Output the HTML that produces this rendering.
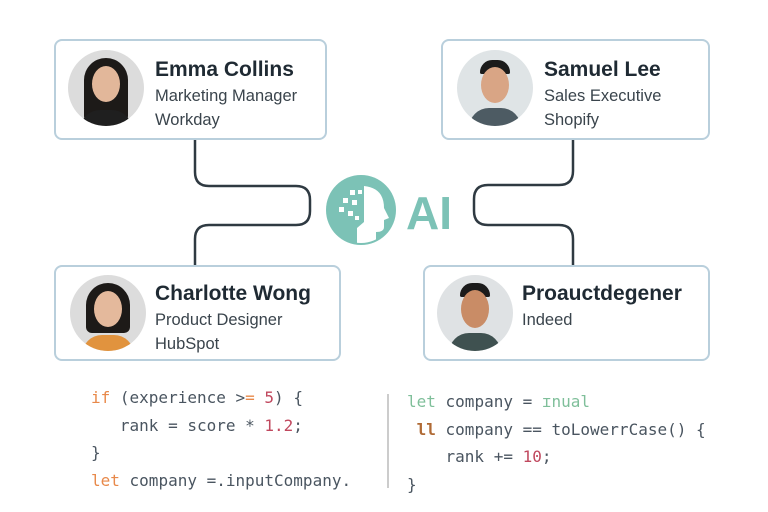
<!DOCTYPE html>
<html><head><meta charset="utf-8"><style>
body{margin:0;width:768px;height:512px;background:#fff;position:relative;overflow:hidden;font-family:"Liberation Sans",sans-serif}
.card{position:absolute;background:#fff;border:2px solid #b9cfdc;border-radius:8px;box-sizing:border-box}
.name{position:absolute;font-weight:bold;font-size:21px;color:#1f2a33}
.sub{position:absolute;font-size:16.5px;color:#3a444c}
.av{position:absolute;width:76px;height:76px;border-radius:50%;overflow:hidden}
.code{position:absolute;font-family:"DejaVu Sans Mono","Liberation Mono",monospace;font-size:16px;color:#4a5560;line-height:27.5px;white-space:pre}
.k{color:#e8894a}.n{color:#c0485e}.g{color:#7fbf9a}.b{color:#b06a35;font-weight:bold}
</style></head><body>
<svg width="768" height="512" style="position:absolute;left:0;top:0">
<defs><clipPath id="c"><circle cx="361" cy="210" r="33"/></clipPath></defs>
<g fill="none" stroke="#2f3a42" stroke-width="2.5">
<path d="M195 140 V172 Q195 186 209 186 H296 Q310 186 310 200 V211 Q310 225 296 225 H209 Q195 225 195 239 V265"/>
<path d="M573 140 V171 Q573 185 559 185 H488 Q474 185 474 199 V211 Q474 225 488 225 H559 Q573 225 573 239 V265"/>
</g>
<circle cx="361" cy="210" r="35" fill="#7cc2b6"/>
<path clip-path="url(#c)" d="M364 186 Q384 188 384 208 L389 218 L384 220 L384 227 Q384 232 376 232 L376 250 L357 250 L357 228 L364 222 Z" fill="#fff"/>
<g fill="#fff"><rect x="350" y="190" width="5" height="5"/><rect x="358" y="190" width="4" height="4"/><rect x="343" y="198" width="5" height="5"/><rect x="352" y="200" width="5" height="5"/><rect x="339" y="207" width="5" height="5"/><rect x="348" y="211" width="5" height="5"/><rect x="355" y="216" width="4" height="4"/></g>
<text x="406" y="229" font-family="Liberation Sans" font-weight="bold" font-size="46" fill="#7cc2b6">AI</text>
<line x1="388" y1="394" x2="388" y2="488" stroke="#ccc" stroke-width="2"/>
</svg>

<div class="card" style="left:54px;top:39px;width:273px;height:101px"></div>
<div class="card" style="left:441px;top:39px;width:269px;height:101px"></div>
<div class="card" style="left:54px;top:265px;width:287px;height:96px"></div>
<div class="card" style="left:423px;top:265px;width:287px;height:96px"></div>

<div class="av" style="left:68px;top:50px;background:#dcdcdc"><div style="position:absolute;left:16px;top:8px;width:44px;height:64px;background:#1d1a18;border-radius:22px 22px 6px 6px"></div><div style="position:absolute;left:24px;top:16px;width:28px;height:36px;background:#e2b79a;border-radius:50%"></div><div style="position:absolute;left:12px;top:60px;width:52px;height:20px;background:#1f1f1f;border-radius:20px 20px 0 0"></div></div>
<div class="av" style="left:457px;top:50px;background:#dfe4e6"><div style="position:absolute;left:23px;top:10px;width:30px;height:14px;background:#1b1b1b;border-radius:14px 14px 2px 2px"></div><div style="position:absolute;left:24px;top:17px;width:28px;height:36px;background:#d9a585;border-radius:50%"></div><div style="position:absolute;left:12px;top:58px;width:52px;height:22px;background:#4d5b63;border-radius:20px 20px 0 0"></div></div>
<div class="av" style="left:70px;top:275px;background:#dcdcdc"><div style="position:absolute;left:16px;top:8px;width:44px;height:50px;background:#1d1a18;border-radius:22px 22px 6px 6px"></div><div style="position:absolute;left:24px;top:16px;width:28px;height:36px;background:#e4b99c;border-radius:50%"></div><div style="position:absolute;left:12px;top:60px;width:52px;height:20px;background:#e1933e;border-radius:20px 20px 0 0"></div></div>
<div class="av" style="left:437px;top:275px;background:#dfe2e4"><div style="position:absolute;left:23px;top:8px;width:30px;height:14px;background:#1b1b1b;border-radius:14px 14px 2px 2px"></div><div style="position:absolute;left:24px;top:15px;width:28px;height:38px;background:#c98c66;border-radius:50%"></div><div style="position:absolute;left:12px;top:58px;width:52px;height:22px;background:#3f5150;border-radius:20px 20px 0 0"></div></div>

<div class="name" style="left:155px;top:58px">Emma Collins</div>
<div class="sub" style="left:155px;top:87px">Marketing Manager</div>
<div class="sub" style="left:155px;top:111px">Workday</div>
<div class="name" style="left:544px;top:58px">Samuel Lee</div>
<div class="sub" style="left:544px;top:87px">Sales Executive</div>
<div class="sub" style="left:544px;top:111px">Shopify</div>
<div class="name" style="left:155px;top:282px">Charlotte Wong</div>
<div class="sub" style="left:155px;top:311px">Product Designer</div>
<div class="sub" style="left:155px;top:335px">HubSpot</div>
<div class="name" style="left:522px;top:282px">Proauctdegener</div>
<div class="sub" style="left:522px;top:311px">Indeed</div>

<div class="code" style="left:91px;top:384px"><span class="k">if</span> (experience &gt;<span class="k">=</span> <span class="n">5</span>) {
   rank = score * <span class="n">1.2</span>;
}
<span class="k">let</span> company =.inputCompany.</div>
<div class="code" style="left:407px;top:388px"><span class="g">let</span> company = <span class="g">ɪnual</span>
 <span class="b">ll</span> company == toLowerrCase() {
    rank += <span class="n">10</span>;
}</div>
</body></html>
